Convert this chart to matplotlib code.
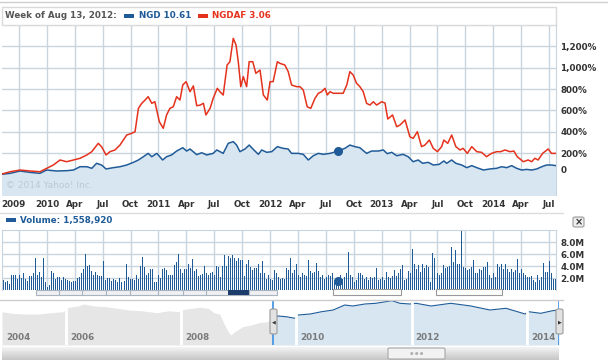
import matplotlib
matplotlib.use('Agg')
import matplotlib.pyplot as plt
import matplotlib.transforms as mtransforms
from matplotlib.patches import Rectangle, FancyBboxPatch
import numpy as np

# --- data (x in quarters, 0 = first labelled gridline) ---
q_labels = ['2009', '2010', 'Apr', 'Jul', 'Oct', '2011', 'Apr', 'Jul', 'Oct', '2012',
            'Apr', 'Jul', 'Oct', '2013', 'Apr', 'Jul', 'Oct', '2014', 'Apr', 'Jul']

red_q = [-0.68, -0.32, 0.04, 0.39, 0.75, 0.99, 1.23, 1.47, 1.71, 1.95,
         2.19, 2.43, 2.61, 2.84, 2.96, 3.12, 3.26, 3.44, 3.62, 3.86,
         4.04, 4.16, 4.28, 4.40, 4.52, 4.63, 4.76, 4.87, 5.03, 5.17,
         5.29, 5.41, 5.53, 5.65, 5.77, 5.87, 5.99, 6.13, 6.25, 6.37,
         6.49, 6.61, 6.70, 6.85, 6.96, 7.11, 7.20, 7.32, 7.46, 7.56,
         7.68, 7.78, 7.86, 7.95, 8.04, 8.16, 8.25, 8.38, 8.49, 8.64,
         8.76, 8.90, 9.00, 9.11, 9.26, 9.35, 9.53, 9.65, 9.77, 9.95,
         10.07, 10.19, 10.33, 10.46, 10.61, 10.73, 10.85, 10.97, 11.05, 11.15,
         11.27, 11.39, 11.62, 11.75, 11.86, 11.98, 12.10, 12.22, 12.34, 12.46,
         12.58, 12.70, 12.82, 13.00, 13.12, 13.22, 13.39, 13.54, 13.66, 13.84,
         14.01, 14.13, 14.28, 14.43, 14.55, 14.71, 14.85, 15.00, 15.15, 15.23,
         15.37, 15.51, 15.66, 15.81, 15.92, 16.07, 16.23, 16.41, 16.58, 16.76,
         16.94, 17.12, 17.27, 17.42, 17.60, 17.74, 17.86, 18.08, 18.25, 18.38,
         18.49, 18.61, 18.77, 18.97, 19.09, 19.25]
red_pct = [0, 26, 42, 33, 26, 58, 89, 136, 120, 136,
           152, 183, 214, 292, 261, 183, 214, 230, 276, 370,
           386, 401, 620, 667, 698, 729, 667, 682, 495, 433,
           558, 620, 635, 729, 698, 839, 870, 776, 830, 645,
           650, 667, 558, 620, 714, 808, 776, 745, 1026, 1057,
           1276, 1214, 1057, 823, 917, 823, 1057, 1057, 948, 979,
           745, 698, 870, 870, 1057, 1042, 1026, 964, 839, 823,
           823, 792, 635, 620, 714, 761, 776, 808, 745, 776,
           761, 761, 761, 839, 964, 932, 855, 823, 776, 667,
           651, 682, 651, 682, 670, 520, 558, 448, 464, 511,
           354, 339, 401, 261, 276, 323, 245, 214, 261, 323,
           292, 370, 261, 230, 245, 198, 261, 214, 208, 167,
           198, 214, 214, 230, 214, 220, 167, 120, 136, 120,
           152, 136, 198, 239, 198, 198]

blue_q = [-0.68, -0.32, 0.04, 0.39, 0.75, 0.99, 1.35, 1.71, 1.95, 2.19,
          2.43, 2.61, 2.78, 2.96, 3.12, 3.38, 3.62, 3.86, 4.10, 4.28,
          4.46, 4.63, 4.76, 4.94, 5.15, 5.29, 5.47, 5.65, 5.87, 6.01,
          6.13, 6.37, 6.55, 6.73, 6.96, 7.09, 7.32, 7.50, 7.68, 7.80,
          7.92, 8.10, 8.25, 8.42, 8.58, 8.70, 8.88, 9.06, 9.26, 9.47,
          9.65, 9.77, 10.01, 10.19, 10.37, 10.55, 10.73, 10.91, 11.15, 11.44,
          11.68, 11.86, 12.04, 12.22, 12.46, 12.64, 12.88, 13.06, 13.20, 13.36,
          13.54, 13.77, 13.95, 14.13, 14.31, 14.47, 14.67, 14.85, 15.06, 15.23,
          15.33, 15.51, 15.66, 15.87, 16.05, 16.23, 16.41, 16.65, 16.88, 17.12,
          17.30, 17.48, 17.66, 17.84, 18.02, 18.20, 18.38, 18.56, 18.74, 18.91,
          19.09, 19.25]
blue_pct = [0, 11, 33, 20, 11, 42, 33, 36, 42, 73,
            73, 58, 105, 89, 52, 64, 73, 89, 114, 136,
            167, 198, 167, 198, 136, 167, 183, 220, 251, 220,
            239, 186, 204, 183, 198, 230, 198, 292, 308, 276,
            214, 239, 276, 230, 189, 230, 208, 214, 261, 245,
            239, 198, 198, 189, 136, 176, 198, 189, 198, 220,
            245, 276, 261, 251, 198, 220, 220, 230, 195, 208,
            176, 189, 167, 120, 136, 105, 114, 89, 95, 127,
            105, 136, 105, 89, 64, 83, 64, 42, 52, 58,
            73, 64, 83, 58, 42, 48, 42, 52, 73, 89,
            89, 83]
sel_idx = 59            # week of Aug 13, 2012
sel_volume = 1.55892    # millions

# weekly volume, millions
volume = [1.7, 1.3, 1.6, 1.0, 2.6, 2.5, 2.6, 1.9, 2.6, 2.1, 2.8, 1.9, 1.5, 2.3, 2.4, 2.9, 5.3, 2.5, 3.1, 2.2,
          5.3, 1.4, 0.6, 0.8, 3.2, 2.9, 1.9, 2.2, 2.2, 1.7, 2.2, 1.9, 1.7, 1.6, 1.4, 1.6, 1.5, 2.1, 2.2, 2.8,
          3.6, 6.1, 4.1, 4.2, 3.2, 2.5, 3.1, 2.5, 2.3, 2.4, 4.8, 1.7, 2.1, 2.1, 1.5, 1.9, 1.7, 1.4, 2.1, 1.4,
          1.5, 4.4, 2.2, 1.9, 1.9, 1.7, 2.6, 1.9, 4.1, 5.6, 3.9, 2.5, 2.8, 3.6, 3.6, 1.4, 1.3, 2.6, 2.1, 3.6,
          3.7, 3.3, 2.5, 2.5, 2.5, 4.2, 4.7, 6.0, 3.6, 2.8, 3.6, 3.6, 4.3, 3.7, 5.2, 3.2, 3.6, 2.4, 2.5, 2.7,
          4.1, 2.9, 2.5, 2.9, 3.1, 2.5, 4.1, 3.9, 2.2, 4.1, 5.9, 4.1, 5.7, 5.3, 5.8, 5.3, 4.8, 5.4, 5.0, 5.0,
          2.4, 4.3, 5.0, 3.9, 3.3, 3.7, 3.7, 4.3, 2.8, 4.8, 2.8, 1.9, 2.6, 1.9, 1.7, 3.4, 2.8, 2.2, 1.8, 2.1,
          1.9, 3.7, 3.3,
          5.4, 2.9, 3.3, 4.4, 2.5, 2.2, 2.9, 2.6, 2.4, 5.0, 3.2, 2.9, 3.1, 4.6, 3.2, 2.2, 2.5, 1.9, 2.2, 2.5,
          2.4, 2.8, 1.7, 1.9, 1.9, 2.5, 1.9, 2.2, 2.9, 6.3, 2.6, 2.2, 1.4, 1.7, 2.9, 2.8, 2.5, 1.9, 2.2, 1.7,
          2.2, 2.1, 2.2, 3.7, 1.7, 1.8, 2.2, 1.7, 3.1, 2.2, 2.1, 2.4, 3.3, 2.4, 2.8, 3.6, 4.2, 1.7, 1.8, 3.2,
          2.9, 6.8, 4.3, 3.6, 4.2, 3.1, 4.3, 3.7, 4.2, 3.9, 1.4, 6.2, 5.3, 2.8, 2.6, 2.8, 4.2, 3.7, 3.9, 4.0,
          7.1, 4.7, 6.7, 4.3, 4.4, 9.8, 3.9, 3.7, 3.3, 3.5, 3.9, 5.0, 2.8, 2.8, 3.6, 3.4, 3.9, 3.9, 4.7, 2.5,
          2.1, 2.9, 2.2, 4.3, 3.9, 4.4, 3.6, 4.4, 3.5, 3.1, 3.6, 3.1, 3.4, 5.2, 2.8, 3.6, 2.8, 2.5, 2.2, 2.2,
          2.4, 1.7, 1.4, 2.6, 1.7, 2.2, 4.6, 3.1, 3.1, 4.8, 2.8, 1.9, 1.9]

# navigator (long history, relative level)
hist_years = [2004.89, 2005.06, 2005.27, 2005.53, 2005.74, 2005.95, 2006.05, 2006.21, 2006.31, 2006.49,
              2006.69, 2006.90, 2007.09, 2007.30, 2007.58, 2007.79, 2007.94, 2008.05, 2008.19, 2008.33,
              2008.47, 2008.57, 2008.67, 2008.74, 2008.80, 2008.86, 2008.93, 2009.07, 2009.21, 2009.35,
              2009.49, 2009.59]
hist_level = [33.3, 31.7, 31, 31, 32.3, 33.3, 37.7, 39, 41, 39,
              38.3, 36.7, 35, 34.3, 32.3, 34.3, 33.3, 35.7, 36.7, 37.7,
              36.7, 32.3, 31, 21.7, 15, 10, 13.3, 18.3, 20, 22.3,
              23.3, 26.7]
nav_years = [2009.59, 2009.68, 2009.82, 2009.98, 2010.03, 2010.24, 2010.44, 2010.64, 2010.84, 2010.98,
             2011.19, 2011.38, 2011.66, 2011.80, 2011.97, 2012.08, 2012.34, 2012.68, 2013.03, 2013.36,
             2013.64, 2013.84, 2013.97, 2014.03, 2014.24, 2014.45, 2014.56]
nav_level = [26.7, 29, 28.3, 26.7, 30, 31, 33.3, 35, 40, 39,
             41, 41.7, 44.3, 41.7, 41, 41.7, 39, 41.7, 39, 35,
             36.7, 33.3, 31, 33.3, 31.7, 34.3, 35]
nav_labels = [2004, 2006, 2008, 2010, 2012, 2014]

GRID = '#c8d5df'
FILL = '#d7e6f1'
BLUE = '#1f5b98'
RED = '#e5321d'
TXT = '#333333'

W, H = 608, 363
fig = plt.figure(figsize=(W / 100, H / 100), dpi=100)


def box(x0, y0, x1, y1):
    return [x0 / W, 1 - y1 / H, (x1 - x0) / W, (y1 - y0) / H]


def rect(x0, y0, x1, y1, **kw):
    r = Rectangle((x0 / W, 1 - y1 / H), (x1 - x0) / W, (y1 - y0) / H,
                  transform=fig.transFigure, **kw)
    fig.add_artist(r)
    return r


def ftext(x, y, s, **kw):
    kw.setdefault('va', 'center')
    kw.setdefault('fontweight', 'bold')
    kw.setdefault('fontsize', 6.3)
    return fig.text(x / W, 1 - y / H, s, **kw)


def hline(y, x0, x1, color='#cccccc'):
    fig.add_artist(plt.Line2D([x0 / W, x1 / W], [1 - y / H, 1 - y / H],
                              transform=fig.transFigure, color=color, lw=1))


# ---------- main chart ----------
ax = fig.add_axes(box(2, 25, 556, 195))
ax.fill_between(blue_q, blue_pct, -300, color=FILL, lw=0)
ax.plot(blue_q, blue_pct, color=BLUE, lw=1.1)
ax.plot(red_q, red_pct, color=RED, lw=1.1)
ax.plot(blue_q[sel_idx], blue_pct[sel_idx], 'o', ms=5.5, color=BLUE)
ax.set_xlim(-0.61, 19.25)
ax.set_ylim(-192, 1401)
ax.set_xticks(range(len(q_labels)))
ax.set_xticklabels(q_labels)
yt = list(range(0, 1201, 200))
ax.set_yticks(yt)
ax.set_yticklabels(['0'] + ['{:,}%'.format(v) for v in yt[1:]])
ax.yaxis.tick_right()
ax.grid(color=GRID, lw=1)
ax.set_axisbelow(True)
ax.tick_params(length=0, labelsize=6.3, colors=TXT)
ax.tick_params(axis='x', pad=3.5)
ax.tick_params(axis='y', pad=3)
for lab in ax.get_xticklabels() + ax.get_yticklabels():
    lab.set_fontweight('bold')
for s in ['left', 'bottom']:
    ax.spines[s].set_visible(False)
for s in ['top', 'right']:
    ax.spines[s].set_color(GRID)
lab0 = ax.get_xticklabels()[0]
lab0.set_transform(lab0.get_transform() + mtransforms.ScaledTranslation(-0.06, 0, fig.dpi_scale_trans))
laby = ax.get_yticklabels()[0]
laby.set_transform(laby.get_transform() + mtransforms.ScaledTranslation(0, 0.05, fig.dpi_scale_trans))

ftext(6, 186, '\u00a9 2014 Yahoo! Inc.', color='#b9cad7', fontweight='normal', fontsize=6.5)

# header
hline(1.5, 0, W, '#cfcfcf')
rect(2, 7, 556, 25, facecolor='white', edgecolor='#dadada', lw=1)
ftext(5, 16, 'Week of Aug 13, 2012:', color='#555555')
rect(124, 13.5, 134, 17.5, facecolor=BLUE, lw=0)
ftext(139, 16, 'NGD 10.61', color=BLUE)
rect(198, 13.5, 208, 17.5, facecolor=RED, lw=0)
ftext(212, 16, 'NGDAF 3.06', color=RED)

# ---------- volume ----------
hline(212.5, 0, 563, '#dddddd')
rect(6, 218, 16, 222, facecolor=BLUE, lw=0)
ftext(20, 220, 'Volume: 1,558,920', color=BLUE)
fig.add_artist(FancyBboxPatch((573 / W, 1 - 227 / H), 11 / W, 10 / H,
                              boxstyle='round,pad=0,rounding_size=0.004',
                              transform=fig.transFigure, facecolor='#eeeeee',
                              edgecolor='#999999', lw=0.8))
ftext(578.5, 222, '\u00d7', color='#333333', ha='center', fontsize=7)

vax = fig.add_axes(box(2, 230, 556, 290.3))
bar_x = np.linspace(-0.57, 19.21, len(volume))
vax.vlines(bar_x, 0, volume, color=BLUE, lw=0.5, antialiased=False)
vax.plot(blue_q[sel_idx], sel_volume, 'o', ms=5.5, color=BLUE)
vax.set_xlim(-0.61, 19.25)
vax.set_ylim(0, 10)
vax.set_xticks(range(len(q_labels)))
vax.set_xticklabels([])
vax.set_yticks([2, 4, 6, 8])
vax.set_yticklabels(['2.0M', '4.0M', '6.0M', '8.0M'])
vax.yaxis.tick_right()
vax.grid(color=GRID, lw=1)
vax.set_axisbelow(True)
vax.tick_params(length=0, labelsize=6.3, colors=TXT, pad=3)
for lab in vax.get_yticklabels():
    lab.set_fontweight('bold')
vax.spines['bottom'].set_visible(False)
for s in ['top', 'right', 'left']:
    vax.spines[s].set_color(GRID)

# range buttons peeking out under the volume panel
rect(36, 290, 277, 295, facecolor='#eef0f3', edgecolor='#aab4be', lw=0.8)
for xd in [59, 82, 106, 130, 158, 183, 206, 249]:
    fig.add_artist(plt.Line2D([xd / W, xd / W], [1 - 290 / H, 1 - 295 / H],
                              transform=fig.transFigure, color='#aab4be', lw=0.8))
rect(228, 290, 249, 295, facecolor='#1c3c6c', lw=0)
rect(333, 289, 401, 294.5, facecolor='white', edgecolor='#999999', lw=0.8)
rect(436, 289, 502, 294.5, facecolor='white', edgecolor='#999999', lw=0.8)

# ---------- navigator ----------
hline(299.5, 0, 563, '#cccccc')
nax = fig.add_axes(box(2, 300, 559, 345))
nax.fill_between(hist_years, hist_level, 0, color='#e6e6e6', lw=0)
nax.fill_between(nav_years, nav_level, 0, color=FILL, lw=0)
nax.plot(nav_years, nav_level, color=BLUE, lw=0.8)
for yr in nav_labels[1:]:
    nax.axvline(yr, color='white', lw=2)
nax.axvline(nav_years[0], color='#3d8fe0', lw=1.2)
nax.axvline(nav_years[-1], color='#3d8fe0', lw=1.2)
nax.set_xlim(2004.89, 2014.56)
nax.set_ylim(0, 45)
nax.axis('off')
for yr in nav_labels:
    nax.text(max(yr, 2004.89) + 0.07, 7, str(yr), color='#7a7a7a', fontsize=6.3,
             fontweight='bold', va='center')

for hx, arrow in [(270, '\u25c0'), (556, '\u25b6')]:
    fig.add_artist(FancyBboxPatch((hx / W, 1 - 334 / H), 7 / W, 25 / H,
                                  boxstyle='round,pad=0,rounding_size=0.004',
                                  transform=fig.transFigure, facecolor='#e2e2e2',
                                  edgecolor='#9a9a9a', lw=0.8))
    ftext(hx + 3.5, 321.5, arrow, color='#333333', ha='center', fontsize=3.5,
          fontweight='normal')

# scrollbar
sax = fig.add_axes(box(2, 347, 559, 360))
grad = np.linspace(0, 1, 30).reshape(-1, 1)
sax.imshow(grad, aspect='auto', cmap=matplotlib.colors.LinearSegmentedColormap.from_list(
    'sb', ['#f4f4f4', '#c6c6c6']), extent=[0, 1, 0, 1])
sax.axis('off')
fig.add_artist(FancyBboxPatch((388 / W, 1 - 359 / H), 57 / W, 11 / H,
                              boxstyle='round,pad=0,rounding_size=0.003',
                              transform=fig.transFigure, facecolor='#f2f2f2',
                              edgecolor='#a8a8a8', lw=0.8))
ftext(416.5, 353.5, '\u25cf \u25cf \u25cf', color='#b0b0b0', ha='center', fontsize=3,
      fontweight='normal')

fig.savefig('out.png', dpi=100)
